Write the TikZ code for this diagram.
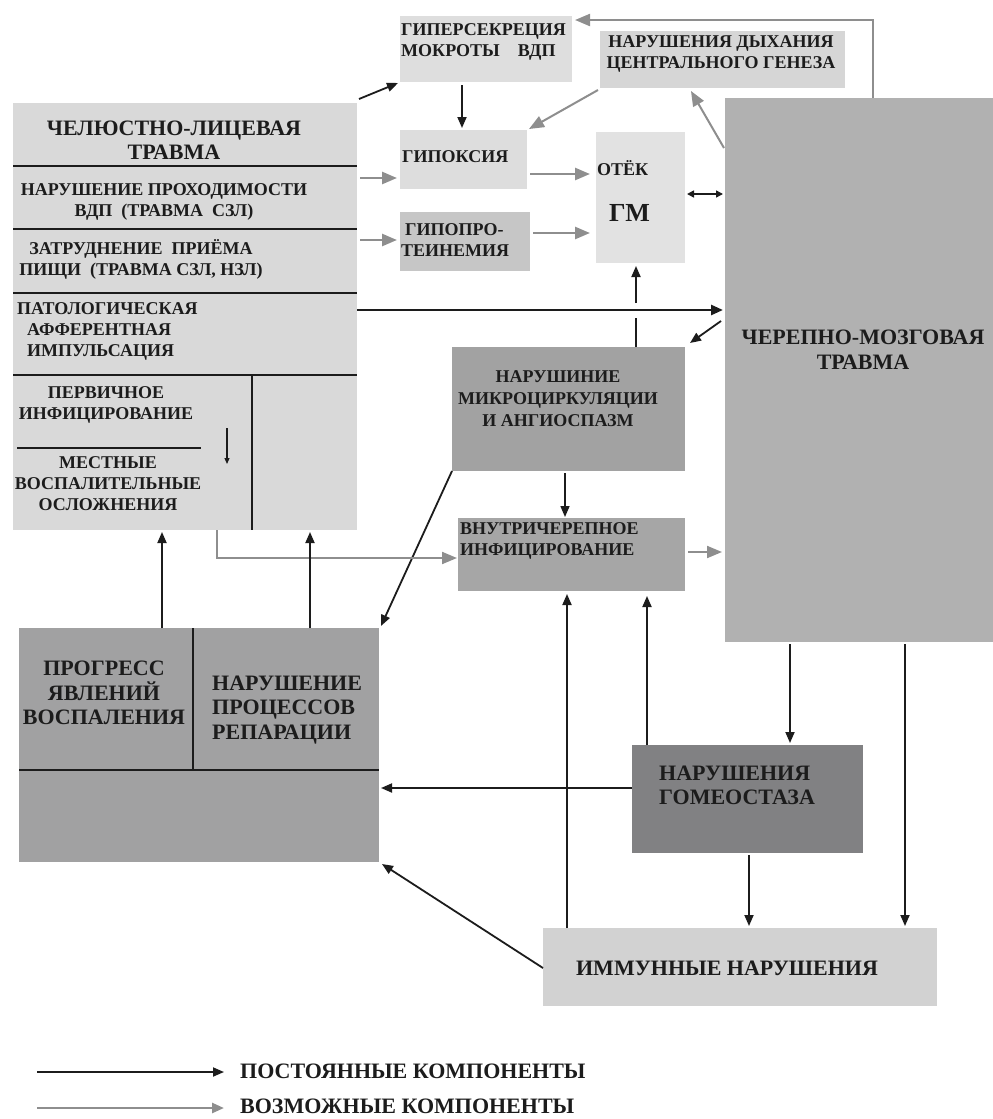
\documentclass[tikz,border=0pt]{standalone}
\usepackage{fontspec}
\setmainfont{Liberation Serif}
\usetikzlibrary{arrows.meta,calc}
\definecolor{cChlt}{HTML}{D9D9D9}
\definecolor{cHyper}{HTML}{DEDEDE}
\definecolor{cDyh}{HTML}{D6D6D6}
\definecolor{cHypox}{HTML}{DDDDDD}
\definecolor{cHypop}{HTML}{C6C6C6}
\definecolor{cOedem}{HTML}{E2E2E2}
\definecolor{cChmt}{HTML}{B1B1B1}
\definecolor{cMicro}{HTML}{A2A2A2}
\definecolor{cVnutr}{HTML}{A6A6A6}
\definecolor{cBl}{HTML}{A1A1A2}
\definecolor{cHomeo}{HTML}{818183}
\definecolor{cImmun}{HTML}{D2D2D2}
\definecolor{cGry}{HTML}{8E8E8E}
\definecolor{cInk}{HTML}{1C1C1C}
\newcommand{\fsz}[2]{\fontsize{#1}{#2}\selectfont}
\begin{document}
\begin{tikzpicture}[x=1pt,y=-1pt,
  box/.style={anchor=north west,inner sep=0pt,outer sep=0pt,draw=none},
  blk/.style={draw=cInk,line width=1.8pt,-{Triangle[length=11pt,width=9pt]}},
  blkthick/.style={draw=cInk,line width=2.6pt,-{Triangle[length=12pt,width=10pt]}},
  gry/.style={draw=cGry,line width=2.5pt,-{Triangle[length=15pt,width=12pt]}},
  divline/.style={draw=cInk,line width=2.2pt},
  txt/.style={inner sep=0pt,align=center,text=cInk,font=\bfseries\fsz{18}{21}},
  bigtxt/.style={inner sep=0pt,align=center,text=cInk,font=\bfseries\fsz{22}{24.5}}]
\useasboundingbox (0,0) rectangle (993,1119);

% boxes
\node[box,fill=cChlt,minimum width=344pt,minimum height=427pt] (chlt) at (13,103) {};
\node[box,fill=cHyper,minimum width=172pt,minimum height=66pt] (hyper) at (400,16) {};
\node[box,fill=cDyh,minimum width=245pt,minimum height=57pt] (dyh) at (600,31) {};
\node[box,fill=cHypox,minimum width=127pt,minimum height=59pt] (hypox) at (400,130) {};
\node[box,fill=cHypop,minimum width=130pt,minimum height=59pt] (hypop) at (400,212) {};
\node[box,fill=cOedem,minimum width=89pt,minimum height=131pt] (oedem) at (596,132) {};
\node[box,fill=cChmt,minimum width=268pt,minimum height=544pt] (chmt) at (725,98) {};
\node[box,fill=cMicro,minimum width=233pt,minimum height=124pt] (micro) at (452,347) {};
\node[box,fill=cVnutr,minimum width=227pt,minimum height=73pt] (vnutr) at (458,518) {};
\node[box,fill=cBl,minimum width=360pt,minimum height=234pt] (blbox) at (19,628) {};
\node[box,fill=cHomeo,minimum width=231pt,minimum height=108pt] (homeo) at (632,745) {};
\node[box,fill=cImmun,minimum width=394pt,minimum height=78pt] (immun) at (543,928) {};

% dividers in the left box
\draw[divline] (chlt.west |- 0,166) -- (chlt.east |- 0,166);
\draw[divline] (chlt.west |- 0,229) -- (chlt.east |- 0,229);
\draw[divline] (chlt.west |- 0,293) -- (chlt.east |- 0,293);
\draw[divline] (chlt.west |- 0,375) -- (chlt.east |- 0,375);
\draw[divline] (252,375) -- (252,0 |- chlt.south);
\draw[divline] (17,448) -- (201,448);
\coordinate (sa1) at (227,428);
\coordinate (sa2) at (227,464);
\draw[draw=cInk,line width=1.2pt,-{Triangle[length=6pt,width=5pt]}] (sa1) -- (sa2);

% dividers in the bottom-left box
\draw[draw=cInk,line width=2pt] (193,0 |- blbox.north) -- (193,770);
\draw[draw=cInk,line width=2pt] (blbox.west |- 0,770) -- (blbox.east |- 0,770);

% texts
\node[bigtxt] (tchlt) at (174,140) {ЧЕЛЮСТНО-ЛИЦЕВАЯ\\ТРАВМА};
\node[txt] (tvdp) at (164,201.5) {НАРУШЕНИЕ ПРОХОДИМОСТИ\\ВДП~~(ТРАВМА~~СЗЛ)};
\node[txt] (tpishi) at (141,259.5) {ЗАТРУДНЕНИЕ~~ПРИЁМА\\ПИЩИ~~(ТРАВМА СЗЛ, НЗЛ)};
\node[txt,align=left,anchor=west] (tpat) at (17,331.5) {ПАТОЛОГИЧЕСКАЯ\\\hspace*{10pt}АФФЕРЕНТНАЯ\\\hspace*{10pt}ИМПУЛЬСАЦИЯ};
\node[txt] (tperv) at (106,404.5) {ПЕРВИЧНОЕ\\ИНФИЦИРОВАНИЕ};
\node[txt] (tmest) at (108,484) {МЕСТНЫЕ\\ВОСПАЛИТЕЛЬНЫЕ\\ОСЛОЖНЕНИЯ};
\node[txt,align=left,anchor=west] (thyper) at (401,42) {ГИПЕРСЕКРЕЦИЯ\\МОКРОТЫ\hspace*{18pt}ВДП};
\node[txt] (tdyh) at (721,54) {НАРУШЕНИЯ ДЫХАНИЯ\\ЦЕНТРАЛЬНОГО ГЕНЕЗА};
\node[txt,anchor=west] (thypox) at (402,157) {ГИПОКСИЯ};
\node[txt,align=left,anchor=west] (thypop) at (401,240) {\hspace*{4pt}ГИПОПРО-\\ТЕИНЕМИЯ};
\node[txt,anchor=west] (totek) at (597,168) {ОТЁК};
\node[txt,anchor=west,font=\bfseries\fsz{26}{28}] (tgm) at (609,213) {ГМ};
\node[bigtxt] (tchmt) at (863,349.5) {ЧЕРЕПНО-МОЗГОВАЯ\\ТРАВМА};
\node[txt,font=\bfseries\fsz{18}{22}] (tmicro) at (558,399) {НАРУШИНИЕ\\МИКРОЦИРКУЛЯЦИИ\\И АНГИОСПАЗМ};
\node[txt,align=left,anchor=west] (tvnutr) at (460,540.5) {ВНУТРИЧЕРЕПНОЕ\\ИНФИЦИРОВАНИЕ};
\node[bigtxt] (tprog) at (104,693) {ПРОГРЕСС\\ЯВЛЕНИЙ\\ВОСПАЛЕНИЯ};
\node[bigtxt,align=left,anchor=west] (trep) at (212,710) {НАРУШЕНИЕ\\ПРОЦЕССОВ\\РЕПАРАЦИИ};
\node[bigtxt,align=left,anchor=west] (thomeo) at (659,785.5) {НАРУШЕНИЯ\\ГОМЕОСТАЗА};
\node[bigtxt,font=\bfseries\fsz{22}{24}] (timmun) at (727,968) {ИММУННЫЕ НАРУШЕНИЯ};

% connectors
\draw[blk] ($(chlt.north east)+(2,-4)$) -- ($(hyper.south west)+(-2,1)$);
\draw[blk,shorten <=3pt,shorten >=2pt] (462,0 |- hyper.south) -- (462,0 |- hypox.north);
\draw[gry,line width=2pt] ($(dyh.south west)+(-2,2)$) -- ($(hypox.north east)+(2,-1)$);
\draw[gry,line width=2pt] ($(chmt.north west)+(-1,50)$) -- ($(691,0 |- dyh.south)+(0,3)$);
\draw[gry,line width=2.2pt,shorten >=3pt] (873,0 |- chmt.north) |- (hyper.east |- 0,20);
\draw[gry,shorten <=3pt,shorten >=3pt] (chlt.east |- 0,178) -- (hypox.west |- 0,178);
\draw[gry,shorten <=3pt,shorten >=3pt] (chlt.east |- 0,240) -- (hypop.west |- 0,240);
\draw[gry,shorten <=3pt,shorten >=6pt] (hypox.east |- 0,174) -- (oedem.west |- 0,174);
\draw[gry,shorten <=3pt,shorten >=6pt] (hypop.east |- 0,233) -- (oedem.west |- 0,233);
\draw[draw=cInk,line width=1.5pt,{Triangle[length=7pt,width=7pt]}-{Triangle[length=7pt,width=7pt]},shorten <=2pt,shorten >=2pt] (oedem.east |- 0,194) -- (chmt.west |- 0,194);
\draw[blkthick,shorten >=2pt] (chlt.east |- 0,310) -- (chmt.west |- 0,310);
\coordinate (gapA) at (636,318);
\coordinate (gapB) at (636,303);
\draw[draw=cInk,line width=1.8pt] (636,0 |- micro.north) -- (gapA);
\draw[blk,shorten >=3pt] (gapB) -- (636,0 |- oedem.south);
\draw[blk] ($(chmt.west |- 0,321)+(-4,0)$) -- ($(micro.north east)+(5,-4)$);
\draw[blk] (micro.south west) -- ($(blbox.north east)+(2,-2)$);
\draw[blk,line width=1.5pt,shorten <=2pt,shorten >=1pt] (565,0 |- micro.south) -- (565,0 |- vnutr.north);
\draw[gry,line width=2pt,shorten >=1pt] (217,0 |- chlt.south) |- (vnutr.west |- 0,558);
\draw[gry,line width=2pt,shorten <=3pt,shorten >=3pt] (vnutr.east |- 0,552) -- (chmt.west |- 0,552);
\draw[blk,shorten >=2pt] (162,0 |- blbox.north) -- (162,0 |- chlt.south);
\draw[blk,shorten >=2pt] (310,0 |- blbox.north) -- (310,0 |- chlt.south);
\draw[blk,shorten >=3pt] (567,0 |- immun.north) -- (567,0 |- vnutr.south);
\draw[blk,shorten >=5pt] (647,0 |- homeo.north) -- (647,0 |- vnutr.south);
\draw[blk,shorten <=2pt,shorten >=2pt] (790,0 |- chmt.south) -- (790,0 |- homeo.north);
\draw[blk,shorten <=2pt,shorten >=2pt] (905,0 |- chmt.south) -- (905,0 |- immun.north);
\draw[blk,shorten >=2pt] (homeo.west |- 0,788) -- (blbox.east |- 0,788);
\draw[blk,shorten <=2pt,shorten >=2pt] (749,0 |- homeo.south) -- (749,0 |- immun.north);
\draw[blk] (immun.west |- 0,968) -- ($(blbox.south east)+(3,2)$);

% legend
\coordinate (l1a) at (37,1072);
\coordinate (l1b) at (224,1072);
\coordinate (l2a) at (37,1108);
\coordinate (l2b) at (224,1108);
\draw[blk] (l1a) -- (l1b);
\draw[gry,line width=2.5pt,-{Triangle[length=12pt,width=10pt]}] (l2a) -- (l2b);
\node[bigtxt,font=\bfseries\fsz{22}{24},anchor=west] (leg1) at (240,1071) {ПОСТОЯННЫЕ КОМПОНЕНТЫ};
\node[bigtxt,font=\bfseries\fsz{22}{24},anchor=west] (leg2) at (240,1106) {ВОЗМОЖНЫЕ КОМПОНЕНТЫ};
\end{tikzpicture}
\end{document}
